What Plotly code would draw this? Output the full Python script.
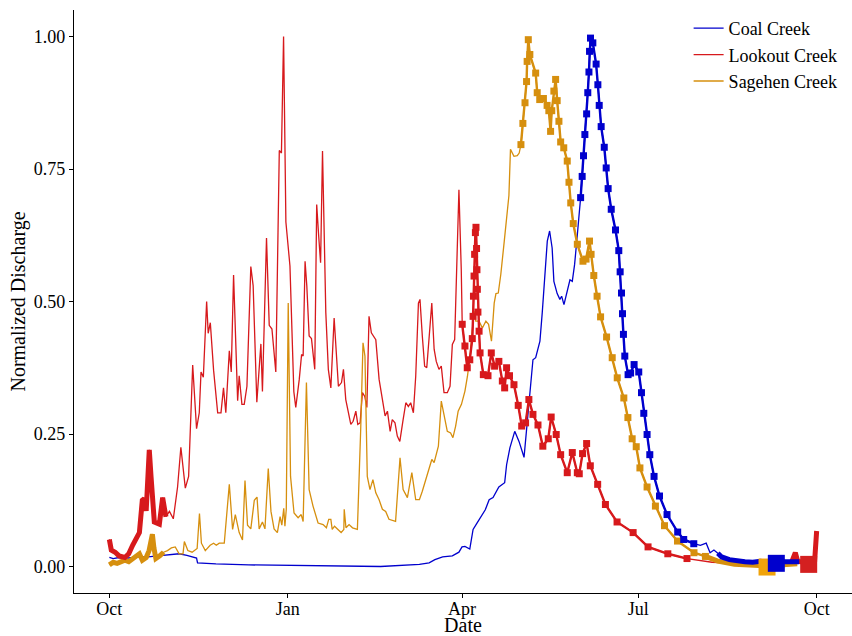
import pandas as pd
import plotly.graph_objects as go

# water year starts Oct 1
START = pd.Timestamp("2014-10-01")

# day of water year (0 = Oct 1) and normalized discharge
lookout_day = [0, 1, 3, 5, 8, 10, 12, 14, 15.5, 17, 18, 19, 20.6, 21.5, 22.3, 23.2, 25.8, 27.5, 28.4, 29.2,
               31, 33, 35.2, 36.9, 39.2, 40.9, 43, 45, 46.4, 47.3, 48.5, 50.2, 51, 52.1, 53.8, 55.9, 57.6,
               58.9, 60.1, 61.9, 62.9, 64.1, 66.2, 67, 68.4, 69.6, 71, 73, 74.2, 76.1, 78.2, 79, 81.1, 82.5,
               83.9, 85.9, 87.7, 88.8, 89.9, 91.1, 93.2, 95.2, 96.2, 98, 99.2, 100, 101, 101.9, 103.1, 104.3,
               106, 107, 107.9, 109, 110, 111.7, 113, 114.3, 116, 117.2, 118.2, 119.8, 120.8, 122, 122.9,
               124.6, 125.8, 127.2, 128.2, 129.4, 130.6, 131.8, 132.9, 134, 135.2, 136.3, 137.5, 139.2,
               140.9, 142.3, 143.5, 144.9, 146, 147.4, 148.6, 149.9, 151.6, 153, 154.3, 155.5, 156.9, 158.1,
               159.5, 160.3, 161.5, 162.7, 163.8, 165, 166.4, 167.6, 168.7, 170.1, 171.3, 172.7, 174.4,
               175.8, 177, 178.2, 179.3, 180.4, 181.6,
               182.1, 183.5, 184.7, 186, 187.3, 187.7, 187.9, 188.2, 188.5, 188.9, 189.2, 189.5, 189.7,
               189.9, 190.2, 190.8, 191.3, 193, 195.4, 197.1, 198.8, 201, 202.8, 204, 205, 206.5, 208.8,
               211, 212.8, 214.8, 216.5, 218.6, 221.2, 223.7, 226.5, 228, 230.6, 232.9, 236.3, 238.9,
               241.5, 242.5, 244.2, 246.3, 248.2, 252, 256, 262, 270.3, 278, 288.2, 298.1,
               311, 325, 340, 350, 352.3, 354, 355.2, 358, 362, 364, 365]
lookout_q = [0.051, 0.031, 0.027, 0.02, 0.017, 0.024, 0.04, 0.057, 0.064, 0.125, 0.128, 0.105, 0.22, 0.17,
             0.107, 0.084, 0.08, 0.13, 0.11, 0.094, 0.104, 0.09, 0.15, 0.225, 0.148, 0.17, 0.38, 0.26, 0.29,
             0.367, 0.357, 0.50, 0.44, 0.46, 0.37, 0.29, 0.29, 0.337, 0.29, 0.407, 0.367, 0.55, 0.313, 0.36,
             0.306, 0.306, 0.34, 0.566, 0.53, 0.31, 0.42, 0.33, 0.62, 0.455, 0.448, 0.367, 0.785, 0.78, 1.0,
             0.65, 0.567, 0.33, 0.30, 0.353, 0.40, 0.397, 0.576, 0.529, 0.435, 0.43, 0.372, 0.683, 0.63,
             0.573, 0.784, 0.479, 0.372, 0.337, 0.469, 0.384, 0.34, 0.347, 0.372, 0.315, 0.296, 0.268,
             0.274, 0.293, 0.268, 0.271, 0.328, 0.321, 0.30, 0.472, 0.441, 0.435, 0.428, 0.353, 0.315,
             0.284, 0.293, 0.255, 0.277, 0.271, 0.246, 0.236, 0.277, 0.309, 0.302, 0.309, 0.29, 0.359,
             0.497, 0.504, 0.435, 0.378, 0.375, 0.435, 0.497, 0.41, 0.387, 0.372, 0.378, 0.328, 0.328,
             0.34, 0.419, 0.428, 0.573, 0.711, 0.56,
             0.457, 0.416, 0.375, 0.39, 0.43, 0.472, 0.51, 0.548, 0.589, 0.63, 0.64, 0.60, 0.56,
             0.523, 0.48, 0.444, 0.403, 0.362, 0.36, 0.403, 0.378, 0.387, 0.35, 0.337, 0.375, 0.36, 0.343,
             0.304, 0.265, 0.271, 0.315, 0.287, 0.267, 0.227, 0.241, 0.282, 0.249, 0.211, 0.177, 0.215,
             0.177, 0.175, 0.213, 0.232, 0.19, 0.155, 0.117, 0.084, 0.064, 0.037, 0.024, 0.015,
             0.008, 0.006, 0.004, 0.006, 0.01, 0.026, 0.01, 0.008, 0.01, 0.012, 0.067]

coal_day = [0, 2, 5, 10, 15, 20, 25, 30, 36, 40, 43, 45, 45.5, 55, 72, 98, 120, 140, 160, 165, 168, 172, 177,
            180.4, 182, 183.5, 186, 187.7, 189.4, 191, 194, 196, 198, 201, 204, 205, 206.7, 209.2, 211.4,
            214, 215.3, 216.5, 217.4, 218.6, 220, 221.2, 222.2, 223.4, 224.6, 226, 227.2, 228.5, 229.4,
            231.1, 232.5, 233.4, 234.6, 236.3, 237.7, 238.9, 240.1, 241.5, 242.4,
            243.2, 244, 244.7, 245.4, 246.3, 246.9, 247.5, 247.8, 248.3, 249.5, 251.2, 252.1, 252.8, 253.8,
            255.4, 256.4, 257.4, 259, 261.2, 262.9, 263.6, 264.3, 264.8, 265.3, 266, 267.7, 269, 270.8,
            273.2, 274.6, 275.8, 277.5, 278.9, 281.1, 283.9, 287.8, 293.3, 296.4, 301.6,
            305, 308, 310, 312, 314, 316, 320, 324, 328, 332, 336, 340, 344, 349, 356]
coal_q = [0.017, 0.015, 0.017, 0.016, 0.018, 0.018, 0.02, 0.022, 0.024, 0.021, 0.018, 0.016, 0.007, 0.005,
          0.003, 0.002, 0.0005, 0.0, 0.004, 0.007, 0.013, 0.018, 0.02, 0.027, 0.037, 0.038, 0.033, 0.07,
          0.08, 0.09, 0.107, 0.126, 0.13, 0.15, 0.158, 0.192, 0.224, 0.255, 0.236, 0.206, 0.255, 0.30,
          0.347, 0.39, 0.394, 0.41, 0.425, 0.479, 0.538, 0.614, 0.633, 0.601, 0.538, 0.515, 0.504, 0.51,
          0.494, 0.519, 0.541, 0.538, 0.57, 0.626, 0.66,
          0.696, 0.736, 0.775, 0.815, 0.854, 0.894, 0.933, 0.972, 0.997, 0.988, 0.948, 0.909, 0.87, 0.83,
          0.791, 0.752, 0.713, 0.674, 0.635, 0.596, 0.556, 0.516, 0.477, 0.438, 0.397, 0.362, 0.365, 0.381,
          0.367, 0.328, 0.289, 0.249, 0.211, 0.17, 0.133, 0.098, 0.065, 0.051, 0.043,
          0.04, 0.044, 0.026, 0.031, 0.025, 0.018, 0.013, 0.01, 0.009, 0.008, 0.01, 0.008, 0.01, 0.009, 0.009]

sagehen_day = [0, 2, 4, 6, 8, 10, 12, 14, 15.5, 17, 19, 20.5, 21.5, 22.2, 23, 24, 26, 28, 30, 32, 34, 36, 38,
               38.7, 40.5, 42.7, 45.3, 46.5, 47.5, 49.5, 52, 53.8, 55.2, 56.7, 59.3, 61.9, 63.6, 65, 67, 68.7,
               70, 71.3, 73, 74.8, 76.2, 77.3, 79, 80.3, 82, 83.4, 85, 86.7, 88.1, 89, 90, 90.6, 91.3, 92.3,
               93.5, 95.3, 97.4, 99, 100, 101.7, 103.1, 105.1, 107.7, 110.3, 112, 113.2, 114.3, 115, 116.2,
               117.9, 119.6, 121, 121.2, 122.1, 123.7, 125.5, 128, 129.7, 130.9, 131.9, 133.1, 134.5, 136,
               137.5, 139.2, 140.9, 142.6, 144.3, 147.7, 150, 151.6, 153.8, 156.1, 158.1, 160, 161.5, 163.3,
               165, 166.4, 167.6, 169.8, 171.3, 172.7, 174.4, 176.1, 177.3, 178.7, 180, 181.7, 183.5, 184.8,
               186.2, 187.4, 188.2, 189.1, 190.8, 192.5, 194.3, 195.7, 197.2, 198.6, 199.5, 200.7, 202,
               203.8, 205.1, 206.2, 207, 208.8, 210.5, 211.5,
               212.4, 213.4, 214.5, 215.3, 215.6, 216.2, 217, 220, 220.8, 222.1, 224, 225.9, 226.8, 227.7,
               228.3, 229.4, 230.3, 231.1, 232, 232.9, 234.5, 236.3, 237.2, 238.1, 239.4, 241.5, 244.4, 246,
               247.8, 248.6, 250, 251.7, 253.5, 256.6, 259.5, 262.1, 265.5, 267.6, 269.8, 271.9, 273.8,
               277.5, 281.8, 286.5, 293.2, 301.7, 307.6,
               314, 322.6, 330, 336, 340, 346, 351, 355]
sagehen_q = [0.003, 0.008, 0.006, 0.01, 0.012, 0.009, 0.015, 0.02, 0.024, 0.012, 0.017, 0.03, 0.057, 0.061,
             0.035, 0.015, 0.02, 0.027, 0.03, 0.035, 0.037, 0.024, 0.024, 0.047, 0.03, 0.027, 0.034, 0.10,
             0.044, 0.03, 0.04, 0.044, 0.04, 0.044, 0.044, 0.155, 0.07, 0.098, 0.064, 0.05, 0.162, 0.078,
             0.071, 0.125, 0.131, 0.071, 0.084, 0.071, 0.185, 0.104, 0.071, 0.064, 0.094, 0.078, 0.11,
             0.076, 0.108, 0.497, 0.17, 0.101, 0.092, 0.098, 0.085, 0.347, 0.145, 0.114, 0.082, 0.079,
             0.073, 0.089, 0.089, 0.07, 0.076, 0.07, 0.064, 0.07, 0.108, 0.073, 0.079, 0.073, 0.07, 0.258,
             0.422, 0.397, 0.17, 0.145, 0.164, 0.139, 0.126, 0.108, 0.104, 0.089, 0.085, 0.205, 0.145,
             0.13, 0.177, 0.126, 0.126, 0.142, 0.164, 0.183, 0.202, 0.196, 0.227, 0.312, 0.284, 0.255,
             0.252, 0.243, 0.265, 0.293, 0.306, 0.331, 0.359, 0.40, 0.45, 0.482, 0.463, 0.463, 0.45,
             0.463, 0.457, 0.425, 0.497, 0.515, 0.516, 0.551, 0.614, 0.664, 0.70, 0.787, 0.774, 0.775, 0.78,
             0.796, 0.836, 0.875, 0.915, 0.953, 0.994, 0.966, 0.931, 0.894, 0.881, 0.883, 0.87, 0.86, 0.821,
             0.86, 0.897, 0.919, 0.879, 0.84, 0.801, 0.79, 0.765, 0.725, 0.686, 0.647, 0.608, 0.576, 0.58,
             0.614, 0.589, 0.549, 0.51, 0.471, 0.433, 0.394, 0.356, 0.318, 0.281, 0.241, 0.226, 0.186,
             0.15, 0.114, 0.077, 0.048, 0.026, 0.019,
             0.01, 0.004, 0.003, 0.002, 0.001, 0.003, 0.004, 0.005]

# recession periods (marked days) and baseflow windows (heavy line), in day of water year
lookout_rec = (182, 299)
coal_rec = (243, 302)
sagehen_rec = (212, 308)
lookout_base = [(0, 30.5), (352, 365)]
coal_base = [(0, 1.5), (314, 356)]
sagehen_base = [(0, 28), (307, 355)]

# annual minimum flow
min_names = ["Sagehen Creek", "Coal Creek", "Lookout Creek"]
min_day = [339.4, 344.2, 360.9]
min_q = [-0.001, 0.006, 0.004]

COLORS = {"Coal Creek": "#0000CD", "Lookout Creek": "#D7191C", "Sagehen Creek": "#D68F0E"}
MIN_COLORS = {"Coal Creek": "#0000CD", "Lookout Creek": "#D42020", "Sagehen Creek": "#F0A30A"}
FONT = "Liberation Serif"


def to_dates(days):
    return START + pd.to_timedelta(days, unit="D")


def window(days, q, lo, hi):
    pts = [(d, v) for d, v in zip(days, q) if lo <= d <= hi]
    return [p[0] for p in pts], [p[1] for p in pts]


creeks = [
    ("Coal Creek", coal_day, coal_q, coal_rec, coal_base),
    ("Lookout Creek", lookout_day, lookout_q, lookout_rec, lookout_base),
    ("Sagehen Creek", sagehen_day, sagehen_q, sagehen_rec, sagehen_base),
]

fig = go.Figure()

# full hydrographs
for name, days, q, rec, base in creeks:
    fig.add_trace(go.Scatter(x=to_dates(days), y=q, mode="lines", name=name,
                             line=dict(color=COLORS[name], width=1.3)))

# baseflow windows
for name, days, q, rec, base in reversed(creeks):
    for lo, hi in base:
        d, v = window(days, q, lo, hi)
        fig.add_trace(go.Scatter(x=to_dates(d), y=v, mode="lines", showlegend=False,
                                 line=dict(color=COLORS[name], width=5)))

# recession limbs
for name, days, q, rec, base in reversed(creeks):
    d, v = window(days, q, *rec)
    fig.add_trace(go.Scatter(x=to_dates(d), y=v, mode="lines+markers", showlegend=False,
                             line=dict(color=COLORS[name], width=2.4),
                             marker=dict(symbol="square", size=7, color=COLORS[name])))

# annual minimum
for name, d, v in zip(min_names, min_day, min_q):
    fig.add_trace(go.Scatter(x=to_dates([d]), y=[v], mode="markers", showlegend=False,
                             marker=dict(symbol="square", size=17, color=MIN_COLORS[name])))

tick_days = [0, 92, 182, 273, 365]
tick_text = ["Oct", "Jan", "Apr", "Jul", "Oct"]

fig.update_layout(
    width=852, height=636,
    margin=dict(l=74, r=0, t=10, b=43),
    plot_bgcolor="white", paper_bgcolor="white",
    font=dict(family=FONT, size=18, color="black"),
    legend=dict(x=0.79, y=1.0, xanchor="left", yanchor="top", bgcolor="rgba(0,0,0,0)",
                font=dict(size=18), itemwidth=30),
)
fig.update_xaxes(
    range=to_dates([-18.25, 383.25]), tickvals=to_dates(tick_days), ticktext=tick_text,
    showline=True, linecolor="black", linewidth=1.3, ticks="outside", ticklen=4, tickcolor="black",
    ticklabelstandoff=-5,
    showgrid=False, zeroline=False, automargin=False,
    title=dict(text="Date", font=dict(size=20), standoff=6),
)
fig.update_yaxes(
    range=[-0.05, 1.05], tickvals=[0, 0.25, 0.5, 0.75, 1.0], tickformat=".2f",
    showline=True, linecolor="black", linewidth=1.3, ticks="outside", ticklen=4, tickcolor="black",
    showgrid=False, zeroline=False, automargin=False,
    title=dict(text="Normalized Discharge", font=dict(size=20), standoff=2),
)

# drop the page margin so the 852x636 figure fills the window
fig.write_html("out.html", config={"displayModeBar": False},
               post_script="document.body.style.margin = '0';")
